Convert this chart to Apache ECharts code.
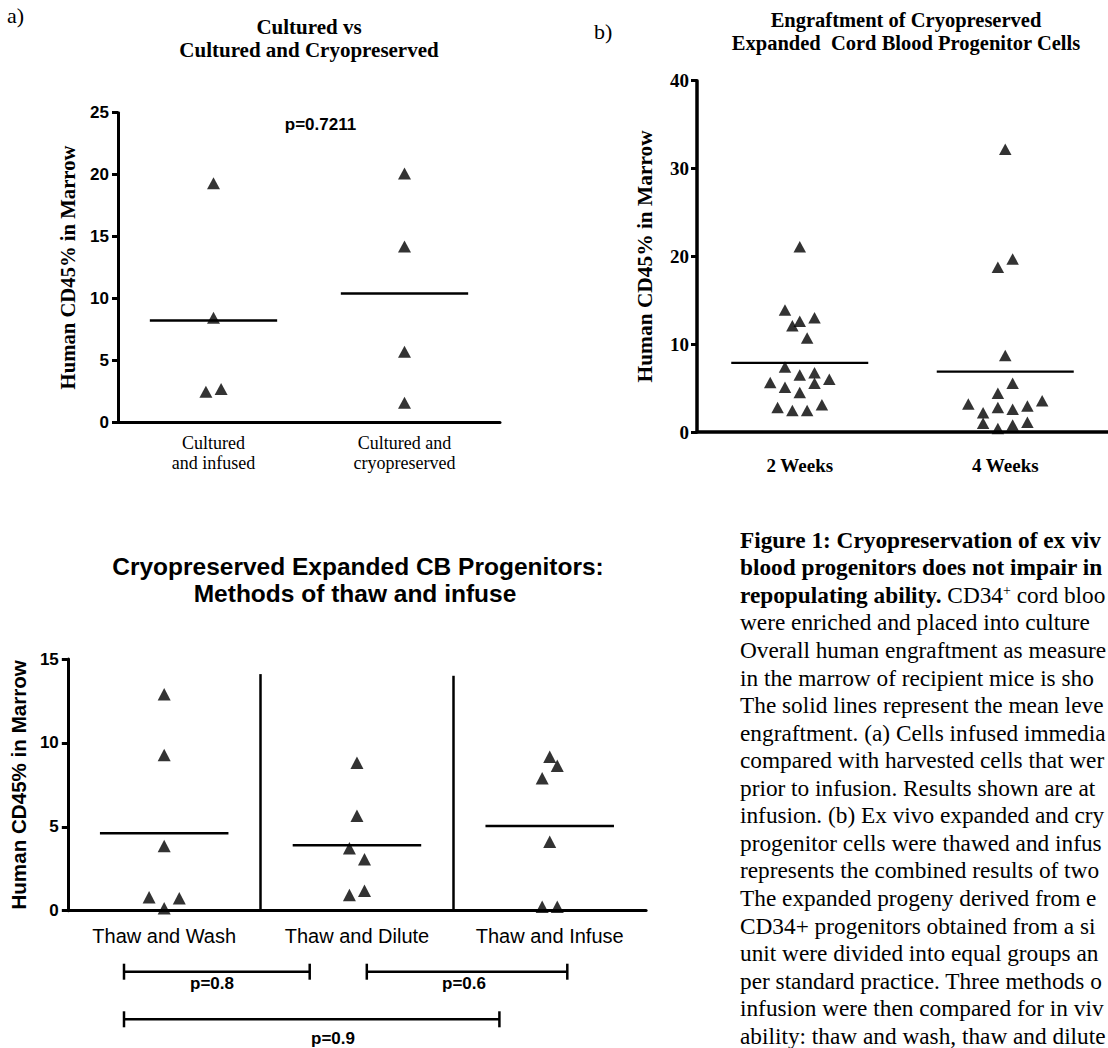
<!DOCTYPE html>
<html><head><meta charset="utf-8">
<script src="https://cdn.jsdelivr.net/npm/echarts@6/dist/echarts.min.js"></script>
<style>html,body{margin:0;padding:0;background:#fff}#c{width:1108px;height:1048px}</style>
</head><body><div id="c"></div>
<script>
// ---------------- data ----------------
const catsA = ['Cultured\nand infused', 'Cultured and\ncryopreserved'];
const culturedInfused = [19.3, 8.45, 2.47, 2.69];
const culturedCryo = [20.1, 14.2, 5.7, 1.58];
const yRangeA = [0, 25, 5];
const pValueA = 'p=0.7211';

const catsB = ['2 Weeks', '4 Weeks'];
const weeks2 = [21.1, 13.9, 12.6, 13.0, 12.1, 10.7, 7.4, 6.5, 6.75, 5.65, 5.1, 4.5, 5.55, 6.0, 2.8, 2.45, 2.45, 3.1];
const weeks4 = [32.2, 18.75, 19.7, 8.7, 4.4, 5.55, 3.2, 2.2, 2.8, 2.6, 2.95, 3.55, 1.0, 0.4, 0.8, 1.1];
const yRangeB = [0, 40, 10];

const catsC = ['Thaw and Wash', 'Thaw and Dilute', 'Thaw and Infuse'];
const thawWash = [12.9, 9.28, 3.86, 0.8, 0.14, 0.74];
const thawDilute = [8.82, 5.66, 3.72, 3.06, 0.94, 1.19];
const thawInfuse = [9.18, 7.89, 8.64, 4.11, 0.24, 0.24];
const yRangeC = [0, 15, 5];
const pLabelsC = ['p=0.8', 'p=0.6', 'p=0.9'];

const yName = 'Human CD45% in Marrow';
const titleA = ['Cultured vs', 'Cultured and Cryopreserved'];
const titleB = ['Engraftment of Cryopreserved', 'Expanded  Cord Blood Progenitor Cells'];
const titleC = ['Cryopreserved Expanded CB Progenitors:', 'Methods of thaw and infuse'];

const captionLines = [
  [['b', 'Figure 1: Cryopreservation of ex vivo']],
  [['b', 'blood progenitors does not impair in']],
  [['b', 'repopulating ability.'], ['n', ' CD34'], ['sup', '+'], ['n', ' cord blood']],
  [['n', 'were enriched and placed into culture with']],
  [['n', 'Overall human engraftment as measured']],
  [['n', 'in the marrow of recipient mice is shown']],
  [['n', 'The solid lines represent the mean level']],
  [['n', 'engraftment. (a) Cells infused immediately']],
  [['n', 'compared with harvested cells that were']],
  [['n', 'prior to infusion. Results shown are at 4']],
  [['n', 'infusion. (b) Ex vivo expanded and cryopreserved']],
  [['n', 'progenitor cells were thawed and infused']],
  [['n', 'represents the combined results of two experiments']],
  [['n', 'The expanded progeny derived from ex vivo']],
  [['n', 'CD34+ progenitors obtained from a single']],
  [['n', 'unit were divided into equal groups and']],
  [['n', 'per standard practice. Three methods of']],
  [['n', 'infusion were then compared for in vivo']],
  [['n', 'ability: thaw and wash, thaw and dilute']]
];

// ---------------- layout / style ----------------
const SERIF = 'Liberation Serif', SANS = 'Liberation Sans';
const W = 1108;
const G = {
  a: {left: 118, top: 112.7, width: 382, height: 309.6},
  b: {left: 697, top: 80.7, width: 423, height: 351.3},
  c: {left: 63.5, top: 659, width: 582.6, height: 251.7}
};

// GraphPad-like horizontal dodge of points with close values
function dodge(vals, pxPerUnit, bandPx, rowPx, stepPx) {
  const idx = vals.map((v, i) => i).sort((a, b) => vals[a] - vals[b] || a - b);
  const off = new Array(vals.length).fill(0);
  let i = 0;
  while (i < idx.length) {
    const start = vals[idx[i]]; const row = [idx[i]]; i++;
    while (i < idx.length && (vals[idx[i]] - start) * pxPerUnit < rowPx) { row.push(idx[i]); i++; }
    row.sort((a, b) => a - b);
    row.forEach((k, j) => { off[k] = (j - (row.length - 1) / 2) * stepPx / bandPx; });
  }
  return off;
}
const mean = a => a.reduce((s, v) => s + v, 0) / a.length;

function groupSeries(groups, g, yr, xAxisIndex, yAxisIndex, sym, meanW) {
  const ppu = g.height / (yr[1] - yr[0]);
  const band = g.width / groups.length;
  const out = [];
  groups.forEach((vals, gi) => {
    const off = dodge(vals, ppu, band, 15, 15.2);
    out.push({type: 'scatter', xAxisIndex, yAxisIndex, symbol: 'triangle', symbolSize: sym,
      itemStyle: {color: '#000'}, z: 5,
      data: vals.map((v, k) => [gi + off[k], v])});
    const m = mean(vals);
    out.push({type: 'line', xAxisIndex, yAxisIndex, symbol: 'none', z: 4,
      lineStyle: {color: '#000', width: meanW},
      data: [[gi - 1 / 3, m], [gi + 1 / 3, m]]});
  });
  return out;
}

function catAxis(gridIndex, data, label, axisW) {
  return {type: 'category', gridIndex, data, boundaryGap: true,
    axisLine: {onZero: false, lineStyle: {color: '#000', width: axisW}},
    axisTick: {alignWithLabel: true, length: 6, lineStyle: {color: '#000', width: 3}},
    axisLabel: Object.assign({color: '#000', interval: 0}, label),
    splitLine: {show: false}};
}
function hidAxis(gridIndex, n) {
  return {type: 'value', gridIndex, min: -0.5, max: n - 0.5, show: false, splitLine: {show: false}};
}
function valAxis(gridIndex, yr, label, nameStyle, nameGap, axisW) {
  return {type: 'value', gridIndex, min: yr[0], max: yr[1], interval: yr[2],
    axisLine: {show: true, onZero: false, lineStyle: {color: '#000', width: axisW}},
    axisTick: {show: true, length: 6, lineStyle: {color: '#000', width: 3}},
    axisLabel: Object.assign({color: '#000'}, label),
    splitLine: {show: false},
    name: yName, nameLocation: 'middle', nameGap,
    nameTextStyle: Object.assign({color: '#000'}, nameStyle)};
}

const series = [].concat(
  groupSeries([culturedInfused, culturedCryo], G.a, yRangeA, 1, 0, [13, 12], 2.5),
  groupSeries([weeks2, weeks4], G.b, yRangeB, 3, 1, [12.5, 11.5], 2.2),
  groupSeries([thawWash, thawDilute, thawInfuse], G.c, yRangeC, 5, 2, [13, 12.5], 2.5)
);
// vertical separators in chart c (between categories)
series.push({type: 'line', xAxisIndex: 5, yAxisIndex: 2, data: [], symbol: 'none',
  markLine: {silent: true, symbol: 'none', label: {show: false},
    lineStyle: {color: '#000', width: 2.5, type: 'solid'},
    data: [[{coord: [0.5, 0]}, {coord: [0.5, 14.1]}], [{coord: [1.5, 0]}, {coord: [1.5, 14.0]}]]}});

// ---------------- graphic texts ----------------
const graphic = [];
function txt(x, y, text, font, align) {
  graphic.push({type: 'text', x, y, silent: true,
    style: {text, font, fill: '#000', align: align || 'center', verticalAlign: 'middle'}});
}
txt(7, 15, 'a)', `22px "${SERIF}"`, 'left');
txt(594, 31, 'b)', `22px "${SERIF}"`, 'left');
txt(309, 26.7, titleA[0], `bold 21px "${SERIF}"`);
txt(309, 50, titleA[1], `bold 21px "${SERIF}"`);
txt(320.5, 124, pValueA, `bold 17px "${SANS}"`);
txt(906, 20, titleB[0], `bold 20.5px "${SERIF}"`);
txt(906, 43.3, titleB[1], `bold 20.5px "${SERIF}"`);
txt(358, 566, titleC[0], `bold 24.5px "${SANS}"`);
txt(355, 593, titleC[1], `bold 24.5px "${SANS}"`);

// significance brackets (chart c)
function bracket(x1, x2, y, label, lx, ly) {
  const ls = {stroke: '#000', lineWidth: 2.5};
  graphic.push({type: 'line', silent: true, shape: {x1, y1: y, x2, y2: y}, style: ls});
  graphic.push({type: 'line', silent: true, shape: {x1, y1: y - 8, x2: x1, y2: y + 8}, style: ls});
  graphic.push({type: 'line', silent: true, shape: {x1: x2, y1: y - 8, x2, y2: y + 8}, style: ls});
  txt(lx, ly, label, `bold 17px "${SANS}"`);
}
bracket(124, 309.7, 971.7, pLabelsC[0], 212, 983.5);
bracket(366.8, 567.3, 971.7, pLabelsC[1], 464, 983.5);
bracket(124, 499.4, 1019.3, pLabelsC[2], 333, 1038.5);

// caption (the page edge crops it, as in the original figure)
const CAP_X = 740, CAP_Y = 539.8, CAP_LH = 27.55, CAP_FS = 23.3;
const rich = {
  b: {fontFamily: SERIF, fontSize: CAP_FS, fontWeight: 'bold', fill: '#000'},
  n: {fontFamily: SERIF, fontSize: CAP_FS, fill: '#000'},
  sup: {fontFamily: SERIF, fontSize: 14, fill: '#000', verticalAlign: 'top'}
};
const mctx = document.createElement('canvas').getContext('2d');
const fontOf = s => (s.fontWeight === 'bold' ? 'bold ' : '') + s.fontSize + 'px "' + s.fontFamily + '"';
const avail = W - CAP_X - 1;
captionLines.forEach((parts, i) => {
  let used = 0; const kept = [];
  for (const [k, s] of parts) {
    mctx.font = fontOf(rich[k]);
    let t = s;
    while (t.length && used + mctx.measureText(t).width > avail) t = t.slice(0, -1);
    if (t.length) { kept.push([k, t]); used += mctx.measureText(t).width; }
    if (t.length < s.length) break;
  }
  const text = kept.map(p => '{' + p[0] + '|' + p[1] + '}').join('');
  graphic.push({type: 'text', x: CAP_X, y: CAP_Y + i * CAP_LH, silent: true,
    style: {text, rich, align: 'left', verticalAlign: 'middle', fill: '#000',
      fontFamily: SERIF, fontSize: CAP_FS}});
});

const option = {
  animation: false,
  backgroundColor: '#fff',
  grid: [
    Object.assign({containLabel: false}, G.a),
    Object.assign({containLabel: false}, G.b),
    Object.assign({containLabel: false}, G.c)
  ],
  xAxis: [
    catAxis(0, catsA, {fontFamily: SERIF, fontSize: 18, lineHeight: 20, margin: 11}, 3),
    hidAxis(0, catsA.length),
    catAxis(1, catsB, {fontFamily: SERIF, fontWeight: 'bold', fontSize: 19, margin: 24}, 3.5),
    hidAxis(1, catsB.length),
    catAxis(2, catsC, {fontFamily: SANS, fontSize: 20, margin: 15}, 3),
    hidAxis(2, catsC.length)
  ],
  yAxis: [
    valAxis(0, yRangeA, {fontFamily: SANS, fontWeight: 'bold', fontSize: 17, margin: 9},
      {fontFamily: SERIF, fontWeight: 'bold', fontSize: 20.7}, 40, 3),
    valAxis(1, yRangeB, {fontFamily: SERIF, fontWeight: 'bold', fontSize: 19, margin: 8},
      {fontFamily: SERIF, fontWeight: 'bold', fontSize: 21.4}, 42, 3.5),
    valAxis(2, yRangeC, {fontFamily: SANS, fontWeight: 'bold', fontSize: 17, margin: 9},
      {fontFamily: SANS, fontWeight: 'bold', fontSize: 20.6}, 36, 3)
  ],
  series,
  graphic
};
const chart = echarts.init(document.getElementById('c'), null, {renderer: 'svg'});
chart.setOption(option);
</script>
</body></html>
